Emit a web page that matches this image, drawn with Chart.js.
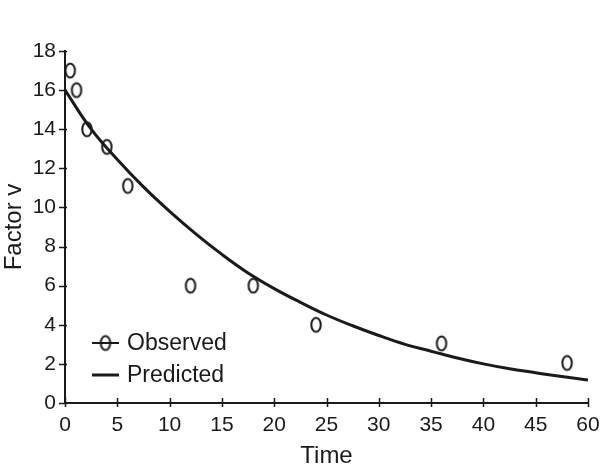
<!DOCTYPE html>
<html>
<head>
<meta charset="utf-8">
<script src="https://cdn.jsdelivr.net/npm/chart.js@4"></script>
<style>
  html, body { margin: 0; padding: 0; background: #fff; }
  #wrap { width: 600px; height: 467px; }
</style>
</head>
<body>
<div id="wrap"><canvas id="chart" width="600" height="467"></canvas></div>
<script>
// observed data (x is position on the time axis)
const obsTime = [0.5, 1.1, 2.1, 4, 6, 12, 18, 24, 36, 48];
const obsFactor = [17, 16, 14, 13.1, 11.1, 6, 6, 4, 3.05, 2.05];

// predicted curve
const predTime = [0, 2.5, 5, 7.5, 10, 12.5, 15, 17.5, 20, 22.5, 25, 27.5, 30, 32.5, 35, 37.5, 40, 42.5, 45, 47.5, 50];
const predFactor = [16.0, 14.0, 12.45, 11.05, 9.8, 8.65, 7.6, 6.65, 5.85, 5.15, 4.5, 3.95, 3.45, 3.0, 2.65, 2.3, 2.0, 1.75, 1.55, 1.35, 1.18];

// tick labels as printed (last one reads 60)
const xTickLabels = ['0', '5', '10', '15', '20', '25', '30', '35', '40', '45', '60'];
const yTickLabels = ['0', '2', '4', '6', '8', '10', '12', '14', '16', '18'];

const ink = '#1a1a1a';
const font = 'Arial, "Liberation Sans", sans-serif';

// open ellipse marker
function ellipseMarker() {
    const c = document.createElement('canvas');
    c.width = 14;
    c.height = 19;
    const g = c.getContext('2d');
    g.strokeStyle = ink;
    g.lineWidth = 2;
    g.beginPath();
    g.ellipse(7, 9.5, 4.7, 7.1, 0, 0, Math.PI * 2);
    g.stroke();
    return c;
}
const marker = ellipseMarker();

// crossing tick marks on both axes
const tickMarks = {
    id: 'tickMarks',
    afterDraw(chart) {
        const ctx = chart.ctx;
        const xs = chart.scales.x, ys = chart.scales.y;
        ctx.save();
        ctx.strokeStyle = ink;
        ctx.lineWidth = 1.5;
        ctx.beginPath();
        xs.ticks.forEach(t => {
            const px = Math.round(xs.getPixelForValue(t.value)) + 0.5;
            ctx.moveTo(px, ys.bottom - 5);
            ctx.lineTo(px, ys.bottom + 4);
        });
        ys.ticks.forEach(t => {
            const py = Math.round(ys.getPixelForValue(t.value)) + 0.5;
            ctx.moveTo(xs.left - 6, py);
            ctx.lineTo(xs.left + 2, py);
        });
        ctx.stroke();
        ctx.restore();
    }
};

// legend inside the plot, lower left
const insideLegend = {
    id: 'insideLegend',
    afterDraw(chart) {
        const ctx = chart.ctx;
        const area = chart.chartArea;
        const x0 = area.left + 27;
        const rows = [area.bottom - 60, area.bottom - 28];
        ctx.save();
        ctx.font = '23px ' + font;
        ctx.fillStyle = ink;
        ctx.textBaseline = 'middle';
        chart.data.datasets.forEach((ds, i) => {
            const y = rows[i];
            ctx.strokeStyle = ink;
            ctx.lineWidth = i === 0 ? 2 : 3;
            ctx.beginPath();
            ctx.moveTo(x0, y);
            ctx.lineTo(x0 + 27, y);
            ctx.stroke();
            if (i === 0) {
                ctx.drawImage(marker, x0 + 13.5 - 7, y - 9.5);
            }
            ctx.fillText(ds.label, x0 + 35, y + 1);
        });
        ctx.restore();
    }
};

new Chart(document.getElementById('chart'), {
    type: 'scatter',
    data: {
        datasets: [{
            label: 'Observed',
            data: obsTime.map((t, i) => ({ x: t, y: obsFactor[i] })),
            showLine: false,
            pointStyle: marker,
            pointRadius: 7,
            pointHoverRadius: 7
        }, {
            label: 'Predicted',
            data: predTime.map((t, i) => ({ x: t, y: predFactor[i] })),
            showLine: true,
            borderColor: ink,
            borderWidth: 3,
            tension: 0.4,
            pointRadius: 0,
            pointHoverRadius: 0
        }]
    },
    options: {
        responsive: false,
        animation: false,
        events: [],
        layout: { padding: { top: 51, right: 0, left: 0, bottom: 0 } },
        plugins: {
            legend: { display: false },
            tooltip: { enabled: false }
        },
        scales: {
            x: {
                type: 'linear',
                min: 0,
                max: 50,
                afterFit(scale) {
                    scale.height = 64;
                    scale.paddingRight = 12;
                },
                border: { display: true, color: ink, width: 2 },
                grid: { display: false, drawTicks: false },
                ticks: {
                    stepSize: 5,
                    padding: 10,
                    color: ink,
                    maxRotation: 0,
                    font: { family: font, size: 21 },
                    callback: (v, i) => xTickLabels[i]
                },
                title: {
                    display: true,
                    text: 'Time',
                    color: ink,
                    padding: { top: 0, bottom: -4 },
                    font: { family: font, size: 24 }
                }
            },
            y: {
                min: 0,
                max: 18,
                afterFit(scale) { scale.width = 65; },
                border: { display: true, color: ink, width: 2 },
                grid: { display: false, drawTicks: false },
                ticks: {
                    stepSize: 2,
                    padding: 9,
                    color: ink,
                    font: { family: font, size: 21 },
                    callback: (v, i) => yTickLabels[i]
                },
                title: {
                    display: true,
                    text: 'Factor v',
                    color: ink,
                    padding: { top: 0, bottom: 0 },
                    font: { family: font, size: 24 }
                }
            }
        }
    },
    plugins: [tickMarks, insideLegend]
});
</script>
</body>
</html>
